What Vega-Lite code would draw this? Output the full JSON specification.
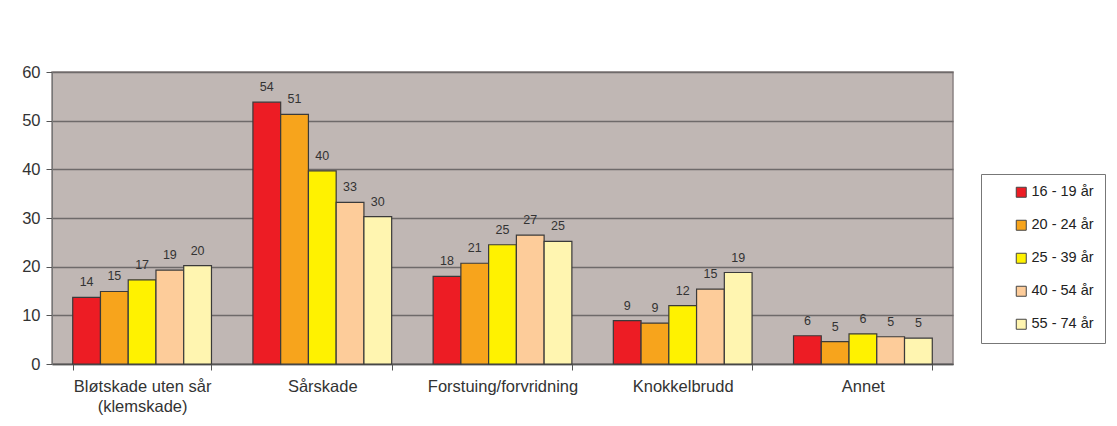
{
  "$schema": "https://vega.github.io/schema/vega-lite/v6.json",
  "autosize": "none",
  "width": 901,
  "height": 292,
  "padding": {"left": 52, "top": 72, "right": 164, "bottom": 62},
  "background": "#ffffff",
  "data": {
    "values": [
      {"kategori": "Bløtskade uten sår (klemskade)", "alder": "16 - 19 år", "verdi": 13.7, "etikett": "14"},
      {"kategori": "Bløtskade uten sår (klemskade)", "alder": "20 - 24 år", "verdi": 14.9, "etikett": "15"},
      {"kategori": "Bløtskade uten sår (klemskade)", "alder": "25 - 39 år", "verdi": 17.3, "etikett": "17"},
      {"kategori": "Bløtskade uten sår (klemskade)", "alder": "40 - 54 år", "verdi": 19.3, "etikett": "19"},
      {"kategori": "Bløtskade uten sår (klemskade)", "alder": "55 - 74 år", "verdi": 20.2, "etikett": "20"},
      {"kategori": "Sårskade", "alder": "16 - 19 år", "verdi": 53.8, "etikett": "54"},
      {"kategori": "Sårskade", "alder": "20 - 24 år", "verdi": 51.3, "etikett": "51"},
      {"kategori": "Sårskade", "alder": "25 - 39 år", "verdi": 39.7, "etikett": "40"},
      {"kategori": "Sårskade", "alder": "40 - 54 år", "verdi": 33.2, "etikett": "33"},
      {"kategori": "Sårskade", "alder": "55 - 74 år", "verdi": 30.3, "etikett": "30"},
      {"kategori": "Forstuing/forvridning", "alder": "16 - 19 år", "verdi": 18.0, "etikett": "18"},
      {"kategori": "Forstuing/forvridning", "alder": "20 - 24 år", "verdi": 20.7, "etikett": "21"},
      {"kategori": "Forstuing/forvridning", "alder": "25 - 39 år", "verdi": 24.5, "etikett": "25"},
      {"kategori": "Forstuing/forvridning", "alder": "40 - 54 år", "verdi": 26.5, "etikett": "27"},
      {"kategori": "Forstuing/forvridning", "alder": "55 - 74 år", "verdi": 25.2, "etikett": "25"},
      {"kategori": "Knokkelbrudd", "alder": "16 - 19 år", "verdi": 8.9, "etikett": "9"},
      {"kategori": "Knokkelbrudd", "alder": "20 - 24 år", "verdi": 8.4, "etikett": "9"},
      {"kategori": "Knokkelbrudd", "alder": "25 - 39 år", "verdi": 12.0, "etikett": "12"},
      {"kategori": "Knokkelbrudd", "alder": "40 - 54 år", "verdi": 15.4, "etikett": "15"},
      {"kategori": "Knokkelbrudd", "alder": "55 - 74 år", "verdi": 18.8, "etikett": "19"},
      {"kategori": "Annet", "alder": "16 - 19 år", "verdi": 5.8, "etikett": "6"},
      {"kategori": "Annet", "alder": "20 - 24 år", "verdi": 4.6, "etikett": "5"},
      {"kategori": "Annet", "alder": "25 - 39 år", "verdi": 6.2, "etikett": "6"},
      {"kategori": "Annet", "alder": "40 - 54 år", "verdi": 5.6, "etikett": "5"},
      {"kategori": "Annet", "alder": "55 - 74 år", "verdi": 5.3, "etikett": "5"}
    ]
  },
  "encoding": {
    "x": {
      "field": "kategori",
      "type": "nominal",
      "sort": null,
      "scale": {"paddingInner": 0.23, "paddingOuter": 0.115},
      "axis": {
        "title": null,
        "labelAngle": 0,
        "labelFont": "Liberation Sans",
        "labelFontSize": 16.5,
        "labelColor": "#333333",
        "labelPadding": 8,
        "labelLineHeight": 20,
        "labelExpr": "datum.label == 'Bløtskade uten sår (klemskade)' ? ['Bløtskade uten sår', '(klemskade)'] : datum.label",
        "tickBand": "extent",
        "tickSize": 6,
        "tickColor": "#555555",
        "domainColor": "#555555",
        "domainWidth": 1.5,
        "grid": false
      }
    },
    "xOffset": {
      "field": "alder",
      "type": "nominal",
      "sort": null,
      "scale": {"paddingInner": 0, "paddingOuter": 0}
    },
    "y": {
      "field": "verdi",
      "type": "quantitative",
      "scale": {"domain": [0, 60], "nice": false},
      "axis": {
        "title": null,
        "values": [0, 10, 20, 30, 40, 50, 60],
        "labelFont": "Liberation Sans",
        "labelFontSize": 16.5,
        "labelColor": "#333333",
        "labelPadding": 6,
        "tickSize": 6,
        "tickColor": "#555555",
        "domainColor": "#777777",
        "grid": true,
        "gridColor": "#6e6a6a",
        "gridWidth": 1.5
      }
    }
  },
  "layer": [
    {
      "mark": {"type": "bar", "stroke": "#3a3a3a", "strokeWidth": 1.2},
      "encoding": {
        "color": {
          "field": "alder",
          "type": "nominal",
          "sort": null,
          "scale": {
            "domain": ["16 - 19 år", "20 - 24 år", "25 - 39 år", "40 - 54 år", "55 - 74 år"],
            "range": ["#ed1c24", "#f7a41c", "#fff200", "#fdcc9a", "#fff5b0"]
          },
          "legend": {
            "title": null,
            "orient": "none",
            "legendX": 929,
            "legendY": 102,
            "padding": 11,
            "strokeColor": "#777777",
            "fillColor": "#ffffff",
            "symbolType": "square",
            "symbolSize": 100,
            "symbolStrokeColor": "#444444",
            "symbolStrokeWidth": 1,
            "symbolOffset": 22,
            "labelFont": "Liberation Sans",
            "labelFontSize": 14.5,
            "labelColor": "#222222",
            "labelOffset": 3,
            "rowPadding": 17,
            "labelLimit": 300
          }
        }
      }
    },
    {
      "mark": {
        "type": "text",
        "baseline": "middle",
        "dy": -15,
        "font": "Liberation Sans",
        "fontSize": 12.5,
        "color": "#333333"
      },
      "encoding": {
        "text": {"field": "etikett", "type": "nominal"}
      }
    }
  ],
  "config": {
    "view": {"fill": "#c0b7b4", "stroke": "#8a8282", "strokeWidth": 1.5}
  }
}
